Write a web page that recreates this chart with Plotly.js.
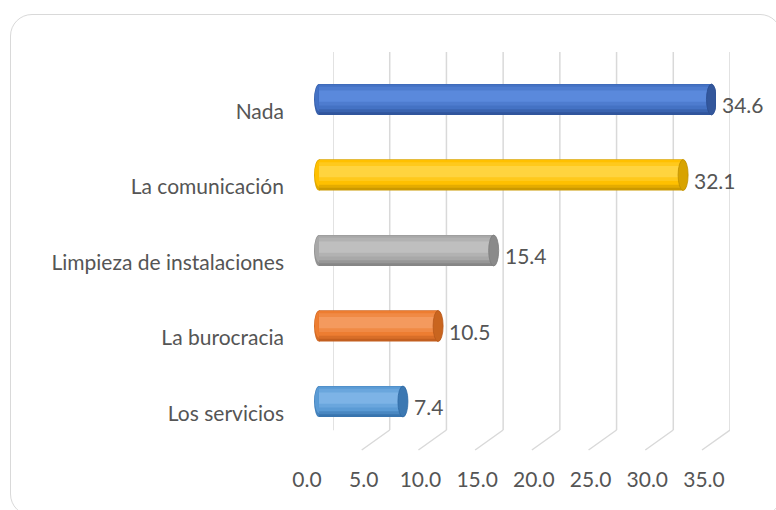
<!DOCTYPE html>
<html>
<head>
<meta charset="utf-8">
<script src="https://cdn.plot.ly/plotly-3.0.1.min.js"></script>
<style>
  html, body { margin: 0; padding: 0; background: #ffffff; }
  #wrap { position: relative; width: 776px; height: 510px; overflow: hidden; }
  #chart { width: 776px; height: 510px; }
  #frame { position: absolute; left: 10px; top: 14px; width: 772px; height: 502px;
           border: 1.5px solid #d9d9d9; border-radius: 22px; pointer-events: none; box-sizing: border-box; }
</style>
</head>
<body>
<div id="wrap">
  <div id="chart"></div>
  <div id="frame"></div>
</div>
<script>
// ---- data (bottom to top) ----
const categories = ['Los servicios', 'La burocracia', 'Limpieza de instalaciones', 'La comunicación', 'Nada'];
const values = [7.4, 10.5, 15.4, 32.1, 34.6];
const tickVals = [0, 5, 10, 15, 20, 25, 30, 35];
const tickText = ['0.0', '5.0', '10.0', '15.0', '20.0', '25.0', '30.0', '35.0'];

// ---- styles ----
const darkCol  = ['#2f6aa4', '#b9581a', '#7d7d7d', '#bf8f00', '#2b4e92'];
const midCol   = ['#5b9bd5', '#ed7d31', '#a8a8a8', '#ffc000', '#4472c4'];
const lightCol = ['#7db3e6', '#f49a5e', '#bfbfbf', '#ffd43f', '#5a89dc'];
const capCol   = ['#3c78b2', '#c9651f', '#8a8a8a', '#d8a300', '#33579c'];
const textCol = '#555555';
const FONT = 'Lato, "Open Sans", sans-serif';
const FSIZE = 21;

function hex2rgb(h) { return [1, 3, 5].map(k => parseInt(h.substr(k, 2), 16)); }
function mix(a, b, t) {
  const A = hex2rgb(a), B = hex2rgb(b);
  return 'rgb(' + A.map((c, k) => Math.round(c + (B[k] - c) * t)).join(',') + ')';
}

const W = 776, H = 510;
const pxPerUnit = 397 / 35;          // horizontal scale
const barH = 0.41;                    // bar thickness in category units
const capHalf = 5 / pxPerUnit;        // half width of end ellipse (units)
const floorTop = 430, plotTop = 52;
const x2Start = -1;                   // room for the rounded left end

const idx = categories.map((_, i) => i);

function barLayer(bottom, top, colors) {
  return {
    type: 'bar', orientation: 'h', x: values, y: idx,
    xaxis: 'x2', yaxis: 'y',
    width: top - bottom, offset: bottom,
    marker: { color: colors, line: { width: 0 } },
    hoverinfo: 'skip', showlegend: false
  };
}

// shading bands, from bottom (dark) to an upper highlight
const bands = [
  [-0.205, 0.205, darkCol.map((c, i) => mix(c, midCol[i], 0.2))],
  [-0.17, 0.205, darkCol.map((c, i) => mix(c, midCol[i], 0.6))],
  [-0.13, 0.2, midCol.map(c => mix(c, c, 0))],
  [-0.08, 0.17, midCol.map((c, i) => mix(c, lightCol[i], 0.45))],
  [-0.03, 0.12, lightCol.map((c, i) => mix(c, lightCol[i], 0))],
];

const data = [
  { type: 'scatter', mode: 'markers', x: [0], y: [0], xaxis: 'x', yaxis: 'y',
    marker: { opacity: 0 }, hoverinfo: 'skip', showlegend: false }
].concat(bands.map(b => barLayer(b[0], b[1], b[2])));

const shapes = [];
// back-wall gridlines + floor lines
tickVals.forEach(v => {
  shapes.push({ type: 'line', xref: 'x', yref: 'paper', layer: 'below',
    x0: v, x1: v, y0: (H - floorTop) / H, y1: (H - plotTop) / H,
    line: { color: '#d9d9d9', width: 1.5 } });
  shapes.push({ type: 'line', xref: 'x', yref: 'paper', layer: 'below',
    x0: v, x1: v - 28 / pxPerUnit, y0: (H - floorTop) / H, y1: (H - floorTop - 20) / H,
    line: { color: '#d9d9d9', width: 1.5 } });
});
// left rounded ends (below bars) and right end caps (above bars)
values.forEach((v, i) => {
  shapes.push({ type: 'circle', xref: 'x2', yref: 'y', layer: 'below',
    x0: -capHalf, x1: capHalf, y0: i - barH / 2, y1: i + barH / 2,
    fillcolor: mix(darkCol[i], midCol[i], 0.5), line: { width: 0 } });
  shapes.push({ type: 'circle', xref: 'x2', yref: 'y', layer: 'below',
    x0: -capHalf * 0.85, x1: capHalf, y0: i - barH / 2 + 0.05, y1: i + barH / 2 - 0.01,
    fillcolor: midCol[i], line: { width: 0 } });
  shapes.push({ type: 'circle', xref: 'x2', yref: 'y', layer: 'above',
    x0: v - capHalf, x1: v + capHalf, y0: i - barH / 2, y1: i + barH / 2,
    fillcolor: capCol[i], line: { color: darkCol[i], width: 0.8 } });
});

const annotations = values.map((v, i) => ({
  xref: 'x2', yref: 'y', x: v, y: i, text: v.toFixed(1),
  showarrow: false, xanchor: 'left', yanchor: 'middle', xshift: 9, yshift: -5,
  font: { family: FONT, size: FSIZE, color: textCol }
}));

const yBottom = -(floorTop - 401.5) / 75.5;
const yTop = (401.5 - plotTop) / 75.5;
const x2Left = 319 + x2Start * pxPerUnit;

const layout = {
  width: W, height: H,
  margin: { l: 0, r: 0, t: 0, b: 0 },
  paper_bgcolor: '#ffffff', plot_bgcolor: 'rgba(0,0,0,0)',
  font: { family: FONT, size: FSIZE, color: textCol },
  barmode: 'overlay',
  showlegend: false,
  xaxis: {
    domain: [333 / W, 730 / W], range: [-0.001, 35.001],
    showgrid: false, zeroline: false, showline: false, ticks: '',
    tickvals: tickVals, ticktext: tickText,
    ticklabelshift: -26, ticklabelstandoff: 35,
    tickfont: { family: FONT, size: FSIZE, color: textCol },
    fixedrange: true
  },
  xaxis2: {
    domain: [x2Left / W, 716 / W], range: [x2Start, 35], anchor: 'y',
    visible: false, showgrid: false, zeroline: false, fixedrange: true
  },
  yaxis: {
    domain: [(H - floorTop) / H, (H - plotTop) / H],
    range: [yBottom, yTop],
    tickvals: idx, ticktext: categories,
    showgrid: false, zeroline: false, showline: false, ticks: '',
    ticklabelshift: 12, ticklabelstandoff: 48,
    tickfont: { family: FONT, size: FSIZE, color: textCol },
    fixedrange: true
  },
  shapes: shapes,
  annotations: annotations
};

Plotly.newPlot('chart', data, layout, { displayModeBar: false, staticPlot: true });
</script>
</body>
</html>
